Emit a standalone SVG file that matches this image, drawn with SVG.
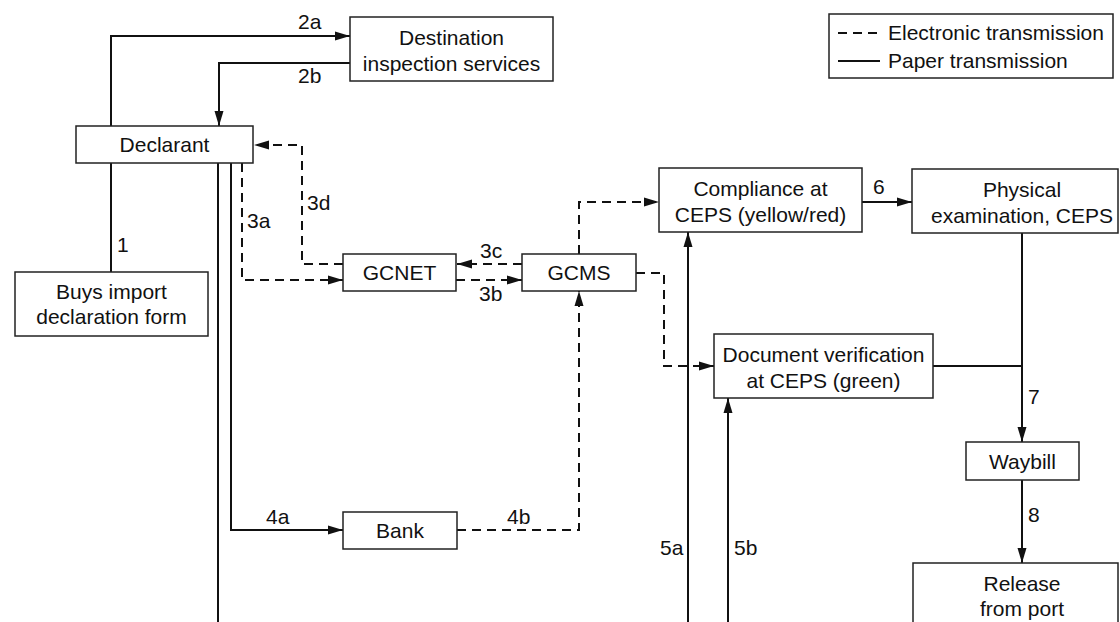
<svg xmlns="http://www.w3.org/2000/svg" width="1120" height="622" viewBox="0 0 1120 622">
<defs>
<style>
.box{fill:#fff;stroke:#222;stroke-width:1.5}
.t{font-family:"Liberation Sans",Arial,Helvetica,sans-serif;font-size:21px;fill:#111;text-anchor:middle}
.l{font-family:"Liberation Sans",Arial,Helvetica,sans-serif;font-size:21px;fill:#111;text-anchor:start}
.s{fill:none;stroke:#111;stroke-width:2}
.d{fill:none;stroke:#111;stroke-width:2;stroke-dasharray:9 6}
</style>
<marker id="ah" markerUnits="userSpaceOnUse" markerWidth="15" markerHeight="10" refX="15" refY="5" orient="auto">
<path d="M0,0.5 L15,5 L0,9.5 z" fill="#111"/>
</marker>
</defs>
<rect width="1120" height="622" fill="#fff"/>

<g id="connectors">
<path class="s" d="M111,163 V272"/>
<path class="s" d="M111,126 V36 H350" marker-end="url(#ah)"/>
<path class="s" d="M350,63 H219 V126" marker-end="url(#ah)"/>
<path class="d" d="M343,264 H302 V145 H254" marker-end="url(#ah)"/>
<path class="d" d="M242,163 V280 H343" marker-end="url(#ah)"/>
<path class="d" d="M522,264 H457" marker-end="url(#ah)"/>
<path class="d" d="M456,280 H522" marker-end="url(#ah)"/>
<path class="d" d="M579,254 V202 H659" marker-end="url(#ah)"/>
<path class="d" d="M636,273 H664 V366 H714" marker-end="url(#ah)"/>
<path class="s" d="M862,202 H912" marker-end="url(#ah)"/>
<path class="s" d="M933,366 H1022"/>
<path class="s" d="M1022,233 V442" marker-end="url(#ah)"/>
<path class="s" d="M1022,480 V563" marker-end="url(#ah)"/>
<path class="s" d="M231,163 V530 H343" marker-end="url(#ah)"/>
<path class="d" d="M457,530 H579 V291" marker-end="url(#ah)"/>
<path class="s" d="M218,163 V630"/>
<path class="s" d="M688,630 V232" marker-end="url(#ah)"/>
<path class="s" d="M728,630 V398" marker-end="url(#ah)"/>
<text class="l" x="298" y="29">2a</text>
<text class="l" x="298" y="83">2b</text>
<text class="l" x="117" y="252">1</text>
<text class="l" x="247" y="228">3a</text>
<text class="l" x="307" y="210">3d</text>
<text class="l" x="480" y="258">3c</text>
<text class="l" x="479" y="301">3b</text>
<text class="l" x="266" y="524">4a</text>
<text class="l" x="507" y="524">4b</text>
<text class="l" x="660" y="555">5a</text>
<text class="l" x="734" y="555">5b</text>
<text class="l" x="873" y="194">6</text>
<text class="l" x="1028" y="404">7</text>
<text class="l" x="1028" y="522">8</text>
</g>

<g id="destination">
<rect class="box" x="350" y="17" width="203" height="64"/>
<text class="t" x="451.5" y="45">Destination</text>
<text class="t" x="451.5" y="71">inspection services</text>
</g>
<g id="declarant">
<rect class="box" x="76" y="126" width="177" height="37"/>
<text class="t" x="164.5" y="152">Declarant</text>
</g>
<g id="buys">
<rect class="box" x="15" y="272" width="193" height="64"/>
<text class="t" x="111.5" y="299">Buys import</text>
<text class="t" x="111.5" y="324">declaration form</text>
</g>
<g id="gcnet">
<rect class="box" x="343" y="254" width="113" height="37"/>
<text class="t" x="399.5" y="280">GCNET</text>
</g>
<g id="gcms">
<rect class="box" x="522" y="254" width="114" height="37"/>
<text class="t" x="579" y="280">GCMS</text>
</g>
<g id="bank">
<rect class="box" x="343" y="512" width="114" height="37"/>
<text class="t" x="400" y="538">Bank</text>
</g>
<g id="compliance">
<rect class="box" x="659" y="168" width="203" height="64"/>
<text class="t" x="760.5" y="196">Compliance at</text>
<text class="t" x="760.5" y="222">CEPS (yellow/red)</text>
</g>
<g id="physical">
<rect class="box" x="912" y="169" width="206" height="64"/>
<text class="t" x="1022" y="197">Physical</text>
<text class="t" x="1022" y="223">examination, CEPS</text>
</g>
<g id="document">
<rect class="box" x="714" y="334" width="219" height="64"/>
<text class="t" x="823.5" y="362">Document verification</text>
<text class="t" x="823.5" y="388">at CEPS (green)</text>
</g>
<g id="waybill">
<rect class="box" x="966" y="442" width="113" height="38"/>
<text class="t" x="1022.5" y="469">Waybill</text>
</g>
<g id="release">
<rect class="box" x="913" y="563" width="205" height="80"/>
<text class="t" x="1022" y="591">Release</text>
<text class="t" x="1022" y="616">from port</text>
</g>
<g id="legend">
<rect class="box" x="829" y="14" width="284" height="64"/>
<path class="d" d="M838,33 H880"/>
<path class="s" d="M838,61 H880"/>
<text class="l" x="888" y="40">Electronic transmission</text>
<text class="l" x="888" y="68">Paper transmission</text>
</g>
</svg>
